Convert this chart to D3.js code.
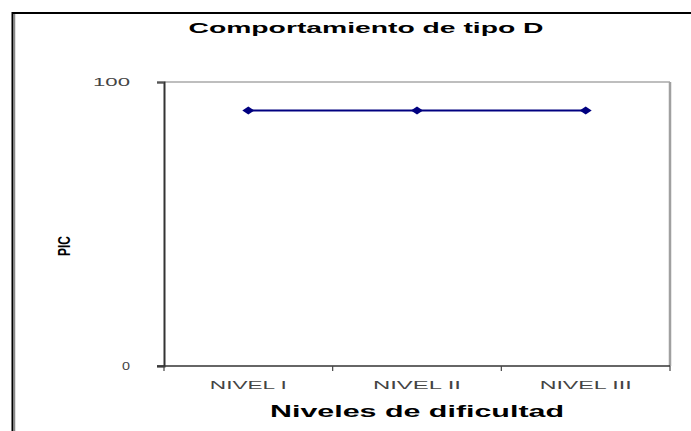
<!DOCTYPE html>
<html>
<head>
<meta charset="utf-8">
<script src="https://cdn.jsdelivr.net/npm/d3@7"></script>
<style>
  body { margin: 0; background: #fff; }
  svg { display: block; font-family: "Liberation Sans", Arial, sans-serif; }
</style>
</head>
<body>
<svg id="canvas" width="691" height="431"></svg>
<script>
// chart data
let categories = ['NIVEL I', 'NIVEL II', 'NIVEL III'];
let picValues = [90, 90, 90];
let yTicks = [0, 100];

let canvas = d3.select('#canvas');

// outer frame (only top and left edges show)
canvas.append('line').attr('x1', 12).attr('x2', 691).attr('y1', 13).attr('y2', 13)
  .attr('stroke', '#000').attr('stroke-width', 2);
canvas.append('line').attr('x1', 12.5).attr('x2', 12.5).attr('y1', 12).attr('y2', 431)
  .attr('stroke', '#000').attr('stroke-width', 2);
canvas.append('line').attr('x1', 14.5).attr('x2', 14.5).attr('y1', 14).attr('y2', 431)
  .attr('stroke', '#888').attr('stroke-width', 1.5);

const plotL = 164, plotR = 670, plotT = 82, plotB = 366;

let x = d3.scaleBand().domain(categories).range([plotL, plotR]);
let y = d3.scaleLinear().domain([0, 100]).range([plotB, plotT]);

// text in the picture is stretched sideways, so widths are forced
const wideText = (sel, w) => sel.attr('textLength', w).attr('lengthAdjust', 'spacingAndGlyphs');

// plot box: grey top/right, dark left/bottom
canvas.append('line').attr('x1', plotL).attr('x2', plotR).attr('y1', plotT).attr('y2', plotT)
  .attr('stroke', '#a8a8a8').attr('stroke-width', 1.5);
canvas.append('line').attr('x1', plotR).attr('x2', plotR).attr('y1', plotT).attr('y2', plotB)
  .attr('stroke', '#a0a0a0').attr('stroke-width', 2.5);

// y axis
let yAxis = d3.axisLeft(y).tickValues(yTicks).tickSize(7).tickPadding(27);
let gy = canvas.append('g').attr('transform', `translate(${plotL},0)`).call(yAxis);
gy.select('.domain').attr('stroke', '#333').attr('stroke-width', 2);
gy.selectAll('.tick line').attr('stroke', '#555').attr('stroke-width', 1.5);
gy.selectAll('.tick text').attr('fill', '#444').attr('font-size', 11)
  .attr('font-family', '"Liberation Sans", Arial, sans-serif')
  .each(function (d) { wideText(d3.select(this), d === 100 ? 37 : 8); });

// x axis with ticks on the band edges
let gx = canvas.append('g').attr('transform', `translate(0,${plotB})`);
gx.append('line').attr('x1', plotL - 7).attr('x2', plotR).attr('y1', 0).attr('y2', 0)
  .attr('stroke', '#333').attr('stroke-width', 1.5);
let edges = categories.map(c => x(c)).concat([x(categories[categories.length - 1]) + x.bandwidth()]);
gx.selectAll('.edge').data(edges).enter().append('line')
  .attr('x1', d => d).attr('x2', d => d).attr('y1', 0).attr('y2', 5)
  .attr('stroke', '#444').attr('stroke-width', 1.2);
let labelW = [77, 88, 92];
gx.selectAll('.lbl').data(categories).enter().append('text')
  .attr('x', d => x(d) + x.bandwidth() / 2)
  .attr('y', 23)
  .attr('text-anchor', 'middle')
  .attr('fill', '#444')
  .attr('font-size', 11)
  .each(function (d, i) { wideText(d3.select(this), labelW[i]); })
  .text(d => d);

// series line
let line = d3.line()
  .x((d, i) => x(categories[i]) + x.bandwidth() / 2)
  .y(d => y(d));
canvas.append('path').datum(picValues)
  .attr('d', line)
  .attr('fill', 'none')
  .attr('stroke', '#000080')
  .attr('stroke-width', 2);

// diamond markers
canvas.selectAll('.pt').data(picValues).enter().append('path')
  .attr('transform', (d, i) => `translate(${x(categories[i]) + x.bandwidth() / 2},${y(d)})`)
  .attr('d', 'M-6,0L0,-4L6,0L0,4Z')
  .attr('fill', '#000080');

// titles
wideText(canvas.append('text').attr('x', 366).attr('y', 33).attr('text-anchor', 'middle')
  .attr('font-size', 15).attr('font-weight', 'bold'), 355)
  .text('Comportamiento de tipo D');
wideText(canvas.append('text').attr('x', 417).attr('y', 417).attr('text-anchor', 'middle')
  .attr('font-size', 17).attr('font-weight', 'bold'), 294)
  .text('Niveles de dificultad');
wideText(canvas.append('text').attr('transform', 'translate(70,246) rotate(-90)')
  .attr('text-anchor', 'middle')
  .attr('font-size', 17).attr('font-weight', 'bold'), 20)
  .text('PIC');
</script>
</body>
</html>
